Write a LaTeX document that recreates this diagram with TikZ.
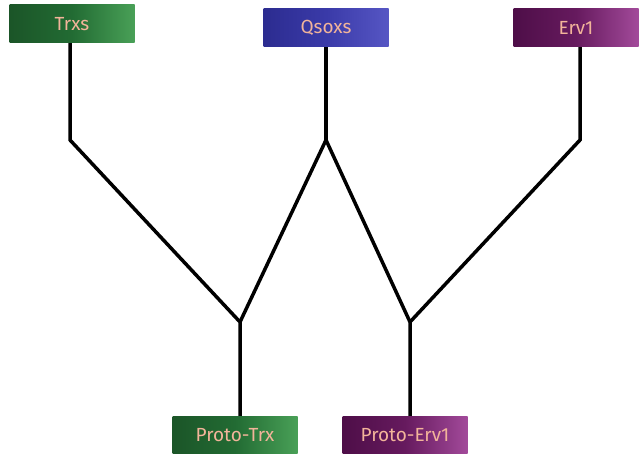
\documentclass[tikz,border=0pt]{standalone}
\usepackage{fontspec}
\setmainfont{Fira Sans}
\definecolor{txt}{HTML}{F2B49A}
\definecolor{gL}{HTML}{1B5528}
\definecolor{gM}{HTML}{226B33}
\definecolor{gR}{HTML}{49A057}
\definecolor{bL}{HTML}{2C2C90}
\definecolor{bM}{HTML}{3A3AA8}
\definecolor{bR}{HTML}{5656C4}
\definecolor{pL}{HTML}{4E0E48}
\definecolor{pM}{HTML}{661A5E}
\definecolor{pR}{HTML}{A24A9A}
\begin{document}
\begin{tikzpicture}[x=1pt,y=-1pt,
  box/.style={minimum width=125pt,minimum height=38pt,inner sep=0pt,text=txt,font=\fontsize{19}{22}\selectfont},
  gbox/.style={box,left color=gL,right color=gR,middle color=gM},
  bbox/.style={box,left color=bL,right color=bR,middle color=bM},
  pbox/.style={box,left color=pL,right color=pR,middle color=pM},
  ln/.style={line width=3.5pt,black}]
\useasboundingbox (0,0) rectangle (640,454);
\node[gbox] (trxs) at (72,24) {Trxs};
\node[bbox] (qsoxs) at (326,28) {Qsoxs};
\node[pbox] (erv) at (576,28) {Erv1};
\node[gbox] (ptrx) at (235,435) {Proto-Trx};
\node[pbox] (perv) at (405,435) {Proto-Erv1};
\coordinate (a) at (70,140);
\coordinate (b) at (326,140);
\coordinate (c) at (580,140);
\coordinate (j1) at (240,322);
\coordinate (j2) at (410,322);
\draw[ln] (trxs.south -| a) -- (a) -- (j1) -- (ptrx.north -| j1);
\draw[ln] (qsoxs.south) -- (b);
\draw[ln] (j1) -- (b) -- (j2);
\draw[ln] (erv.south -| c) -- (c) -- (j2) -- (perv.north -| j2);
\end{tikzpicture}
\end{document}
